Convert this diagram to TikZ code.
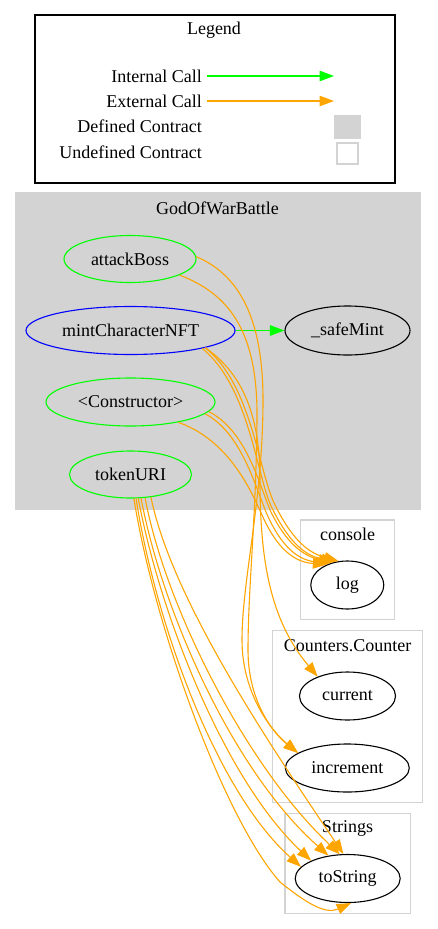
\documentclass[tikz,border=0pt]{standalone}
\usepackage{fontspec}
\setmainfont{Liberation Serif}
\usetikzlibrary{arrows.meta,shapes.geometric}
\definecolor{gvgreen}{HTML}{00FF00}
\definecolor{gvorange}{HTML}{FFA500}
\definecolor{gvblue}{HTML}{0000FF}
\definecolor{gvgray}{HTML}{D3D3D3}
\tikzset{
  lbl/.style={font=\fontsize{18}{21.6}\selectfont, inner sep=0pt},
  fn/.style={ellipse, draw, line width=1.1pt, inner sep=0pt, font=\fontsize{18}{21.6}\selectfont},
  internal/.style={draw=gvgreen, line width=1.2pt, -{Triangle[length=14.5pt,width=10.5pt]}, color=gvgreen},
  external/.style={draw=gvorange, line width=1.1pt, -{Triangle[length=14.5pt,width=10.5pt]}, color=gvorange},
  clusterbox/.style={draw=gvgray, line width=1.2pt},
}
\begin{document}
\begin{tikzpicture}[x=1pt,y=-1pt]
\useasboundingbox (0,0) rectangle (437,929);
% Legend
\draw[line width=1.2pt] (35,15) rectangle (395,183);
\node[lbl] (legtitle) at (214,30) {Legend};
\node[lbl, anchor=east] (licall) at (202,76) {Internal Call};
\node[lbl, anchor=east] (lecall) at (202,101) {External Call};
\node[lbl, anchor=east] (ldef) at (202,126) {Defined Contract};
\node[lbl, anchor=east] (lundef) at (202,152) {Undefined Contract};
\coordinate (ia) at (207,76);
\coordinate (ib) at (334,76);
\coordinate (ea) at (207,101);
\coordinate (eb) at (334,101);
\draw[internal] (ia) -- (ib);
\draw[external] (ea) -- (eb);
\node[fill=gvgray, minimum width=27pt, minimum height=24pt, inner sep=0pt] (defbox) at (347.5,127) {};
\node[draw=gvgray, line width=1.2pt, fill=white, minimum width=21pt, minimum height=21pt, inner sep=0pt] (undefbox) at (347.5,153.5) {};
% Clusters
\fill[gvgray] (15,192) rectangle (420.5,509.5);
\node[lbl] (ctitle) at (217.5,208) {GodOfWarBattle};
\draw[clusterbox] (300.7,520) rectangle (394.3,619.3);
\node[lbl] (consoletitle) at (347.5,534) {console};
\draw[clusterbox] (272.3,630.7) rectangle (422.7,802.3);
\node[lbl] (countertitle) at (347.5,645.5) {Counters.Counter};
\draw[clusterbox] (285,813.3) rectangle (410.3,913.3);
\node[lbl] (stringstitle) at (347.5,828.5) {Strings};
% Nodes
\node[fn, draw=gvgreen, minimum width=132pt, minimum height=47pt] (attackBoss) at (130,259) {attackBoss};
\node[fn, draw=gvblue, minimum width=209pt, minimum height=48pt] (mint) at (130.5,330.5) {mintCharacterNFT};
\node[fn, draw=gvgreen, minimum width=169pt, minimum height=48pt] (ctor) at (130.5,402) {<Constructor>};
\node[fn, draw=gvgreen, minimum width=122pt, minimum height=47pt] (tokenURI) at (130.5,474.5) {tokenURI};
\node[fn, minimum width=125pt, minimum height=49pt] (safeMint) at (347.5,330.5) {\_safeMint};
\node[fn, minimum width=73pt, minimum height=48pt] (log) at (347.3,585) {log};
\node[fn, minimum width=96pt, minimum height=48pt] (current) at (347.5,696) {current};
\node[fn, minimum width=124pt, minimum height=48pt] (increment) at (347.3,768) {increment};
\node[fn, minimum width=105pt, minimum height=48pt] (toString) at (347.7,878.5) {toString};
% Edges
\draw[internal] (mint.east) -- (safeMint.west);
% attackBoss -> increment
\draw[external] (attackBoss.2) .. controls (240,275) and (263,320) .. (263,400) .. controls (263,500) and (242,580) .. (242,640) .. controls (242,690) and (268,728) .. (increment.163);
\draw[external] (attackBoss.-18) .. controls (232,295) and (258,335) .. (257,420) .. controls (256,520) and (248,590) .. (248,650) .. controls (248,700) and (272,732) .. (increment.163);
% mint -> current
\draw[external] (mint.-13) .. controls (245,375) and (260,420) .. (260,480) .. controls (260,560) and (270,620) .. (current.147);
% mint -> log
\draw[external] (mint.-13) .. controls (252,385) and (258,470) .. (275,505) .. controls (290,535) and (305,552) .. (log.110);
\draw[external] (mint.-14) .. controls (250,388) and (256,475) .. (272,508) .. controls (287,538) and (302,555) .. (log.116);
% ctor -> log
\draw[external] (ctor.-7) .. controls (245,430) and (258,480) .. (270,510) .. controls (282,535) and (298,555) .. (log.122);
\draw[external] (ctor.-9) .. controls (240,432) and (254,482) .. (266,512) .. controls (278,540) and (294,560) .. (log.128);
\draw[external] (ctor.-23) .. controls (228,440) and (250,488) .. (262,515) .. controls (274,542) and (290,562) .. (log.134);
% tokenURI -> toString
\draw[external] (tokenURI.-82) .. controls (155,630) and (225,820) .. (280,882) .. controls (305,902) and (325,915) .. (toString.-82);
\draw[external] (tokenURI.-77) .. controls (155,620) and (215,790) .. (toString.166);
\draw[external] (tokenURI.-72) .. controls (160,615) and (225,780) .. (toString.154);
\draw[external] (tokenURI.-66) .. controls (162,610) and (232,770) .. (toString.130);
\draw[external] (tokenURI.-58) .. controls (165,605) and (245,765) .. (toString.108);
\draw[external] (tokenURI.-48) .. controls (172,600) and (270,745) .. (toString.100);
\end{tikzpicture}
\end{document}
